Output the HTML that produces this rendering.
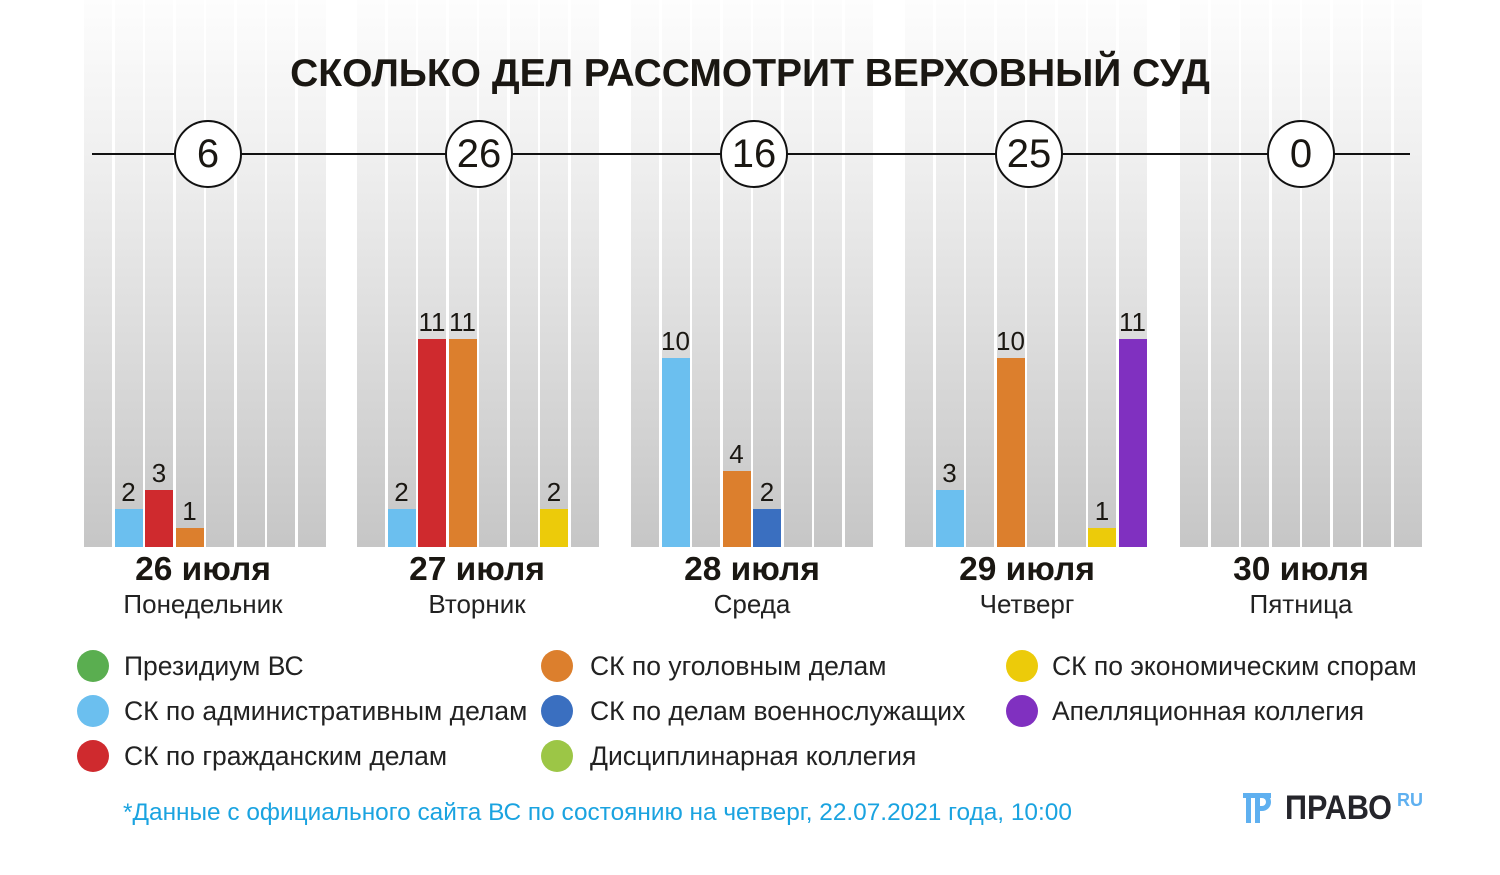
<!DOCTYPE html>
<html><head><meta charset="utf-8"><style>
body{margin:0;width:1500px;height:875px;background:#fff;position:relative;overflow:hidden;font-family:"Liberation Sans",sans-serif;color:#1a1712}
.c{position:absolute;top:0;height:547px;width:28px;background:linear-gradient(#fdfdfd 0px,#f0f0f0 150px,#c6c6c6 547px)}
.b{position:absolute;width:28px}
.v{position:absolute;width:40px;text-align:center;font-size:26px;line-height:30px}
.circ{position:absolute;top:120px;width:64px;height:64px;border:2px solid #111;border-radius:50%;background:#fff;text-align:center;line-height:64px;font-size:40px}
.d{position:absolute;width:240px;text-align:center;top:550px;font-size:33.5px;font-weight:bold;line-height:40px}
.w{position:absolute;width:240px;text-align:center;top:589px;font-size:26px;line-height:30px;color:#222}
.lg{position:absolute;font-size:26.5px;line-height:30px;color:#222}
.dot{position:absolute;width:32px;height:32px;border-radius:50%}
</style></head><body>
<div class="c" style="left:84px"></div><div class="c" style="left:114.5px"></div><div class="c" style="left:145px"></div><div class="c" style="left:175.5px"></div><div class="c" style="left:206px"></div><div class="c" style="left:236.5px"></div><div class="c" style="left:267px"></div><div class="c" style="left:297.5px"></div>
<div class="c" style="left:357px"></div><div class="c" style="left:387.5px"></div><div class="c" style="left:418px"></div><div class="c" style="left:448.5px"></div><div class="c" style="left:479px"></div><div class="c" style="left:509.5px"></div><div class="c" style="left:540px"></div><div class="c" style="left:570.5px"></div>
<div class="c" style="left:631px"></div><div class="c" style="left:661.5px"></div><div class="c" style="left:692px"></div><div class="c" style="left:722.5px"></div><div class="c" style="left:753px"></div><div class="c" style="left:783.5px"></div><div class="c" style="left:814px"></div><div class="c" style="left:844.5px"></div>
<div class="c" style="left:905px"></div><div class="c" style="left:935.5px"></div><div class="c" style="left:966px"></div><div class="c" style="left:996.5px"></div><div class="c" style="left:1027px"></div><div class="c" style="left:1057.5px"></div><div class="c" style="left:1088px"></div><div class="c" style="left:1118.5px"></div>
<div class="c" style="left:1180px"></div><div class="c" style="left:1210.5px"></div><div class="c" style="left:1241px"></div><div class="c" style="left:1271.5px"></div><div class="c" style="left:1302px"></div><div class="c" style="left:1332.5px"></div><div class="c" style="left:1363px"></div><div class="c" style="left:1393.5px"></div>

<div style="position:absolute;left:0;width:1500px;top:50px;text-align:center;font-size:39px;font-weight:bold;line-height:48px;color:#1a1712">СКОЛЬКО ДЕЛ РАССМОТРИТ ВЕРХОВНЫЙ СУД</div>
<div style="position:absolute;left:92px;width:1318px;top:153px;height:2px;background:#111"></div>
<div class="circ" style="left:174px">6</div>
<div class="circ" style="left:445px">26</div>
<div class="circ" style="left:720px">16</div>
<div class="circ" style="left:995px">25</div>
<div class="circ" style="left:1267px">0</div>

<div class="b" style="left:114.5px;top:509px;height:38px;background:#6bbfef"></div><div class="v" style="left:108.5px;top:477px">2</div>
<div class="b" style="left:145px;top:490px;height:57px;background:#cf2a2e"></div><div class="v" style="left:139px;top:458px">3</div>
<div class="b" style="left:175.5px;top:528px;height:19px;background:#dc7f2d"></div><div class="v" style="left:169.5px;top:496px">1</div>

<div class="b" style="left:387.5px;top:509px;height:38px;background:#6bbfef"></div><div class="v" style="left:381.5px;top:477px">2</div>
<div class="b" style="left:418px;top:339px;height:208px;background:#cf2a2e"></div><div class="v" style="left:412px;top:307px">11</div>
<div class="b" style="left:448.5px;top:339px;height:208px;background:#dc7f2d"></div><div class="v" style="left:442.5px;top:307px">11</div>
<div class="b" style="left:540px;top:509px;height:38px;background:#eccb0a"></div><div class="v" style="left:534px;top:477px">2</div>

<div class="b" style="left:661.5px;top:358px;height:189px;background:#6bbfef"></div><div class="v" style="left:655.5px;top:326px">10</div>
<div class="b" style="left:722.5px;top:471px;height:76px;background:#dc7f2d"></div><div class="v" style="left:716.5px;top:439px">4</div>
<div class="b" style="left:753px;top:509px;height:38px;background:#3a6fc0"></div><div class="v" style="left:747px;top:477px">2</div>

<div class="b" style="left:935.5px;top:490px;height:57px;background:#6bbfef"></div><div class="v" style="left:929.5px;top:458px">3</div>
<div class="b" style="left:996.5px;top:358px;height:189px;background:#dc7f2d"></div><div class="v" style="left:990.5px;top:326px">10</div>
<div class="b" style="left:1088px;top:528px;height:19px;background:#eccb0a"></div><div class="v" style="left:1082px;top:496px">1</div>
<div class="b" style="left:1118.5px;top:339px;height:208px;background:#8030c0"></div><div class="v" style="left:1112.5px;top:307px">11</div>

<div class="d" style="left:83px">26 июля</div><div class="w" style="left:83px">Понедельник</div>
<div class="d" style="left:357px">27 июля</div><div class="w" style="left:357px">Вторник</div>
<div class="d" style="left:632px">28 июля</div><div class="w" style="left:632px">Среда</div>
<div class="d" style="left:907px">29 июля</div><div class="w" style="left:907px">Четверг</div>
<div class="d" style="left:1181px">30 июля</div><div class="w" style="left:1181px">Пятница</div>

<div class="dot" style="left:77px;top:650px;background:#5aae50"></div><div class="lg" style="left:124px;top:651px">Президиум ВС</div>
<div class="dot" style="left:77px;top:695px;background:#6bbfef"></div><div class="lg" style="left:124px;top:696px">СК по административным делам</div>
<div class="dot" style="left:77px;top:740px;background:#cf2a2e"></div><div class="lg" style="left:124px;top:741px">СК по гражданским делам</div>
<div class="dot" style="left:541px;top:650px;background:#dc7f2d"></div><div class="lg" style="left:590px;top:651px">СК по уголовным делам</div>
<div class="dot" style="left:541px;top:695px;background:#3a6fc0"></div><div class="lg" style="left:590px;top:696px">СК по делам военнослужащих</div>
<div class="dot" style="left:541px;top:740px;background:#9cc646"></div><div class="lg" style="left:590px;top:741px">Дисциплинарная коллегия</div>
<div class="dot" style="left:1006px;top:650px;background:#eccb0a"></div><div class="lg" style="left:1052px;top:651px">СК по экономическим спорам</div>
<div class="dot" style="left:1006px;top:695px;background:#8030c0"></div><div class="lg" style="left:1052px;top:696px">Апелляционная коллегия</div>

<div style="position:absolute;left:123px;top:798px;font-size:24.4px;line-height:30px;color:#1aa3e0">*Данные с официального сайта ВС по состоянию на четверг, 22.07.2021 года, 10:00</div>

<div style="position:absolute;left:1243px;top:793px;width:30px;height:30px">
<div style="position:absolute;left:0;top:0;width:28px;height:5px;background:#5fb0f0"></div>
<div style="position:absolute;left:3px;top:0;width:5px;height:30px;background:#5fb0f0"></div>
<div style="position:absolute;left:12px;top:0;width:5px;height:30px;background:#5fb0f0"></div>
<div style="position:absolute;left:17px;top:0;width:11px;height:18px;border:5px solid #5fb0f0;border-left:none;border-radius:0 9px 9px 0;box-sizing:border-box"></div>
</div>
<div style="position:absolute;left:1285px;top:788px;font-size:34px;font-weight:bold;line-height:40px;color:#25252b;transform:scaleX(0.9);transform-origin:left">ПРАВО</div>
<div style="position:absolute;left:1397px;top:790px;font-size:18px;font-weight:bold;line-height:20px;color:#5fb0f0">RU</div>
</body></html>
